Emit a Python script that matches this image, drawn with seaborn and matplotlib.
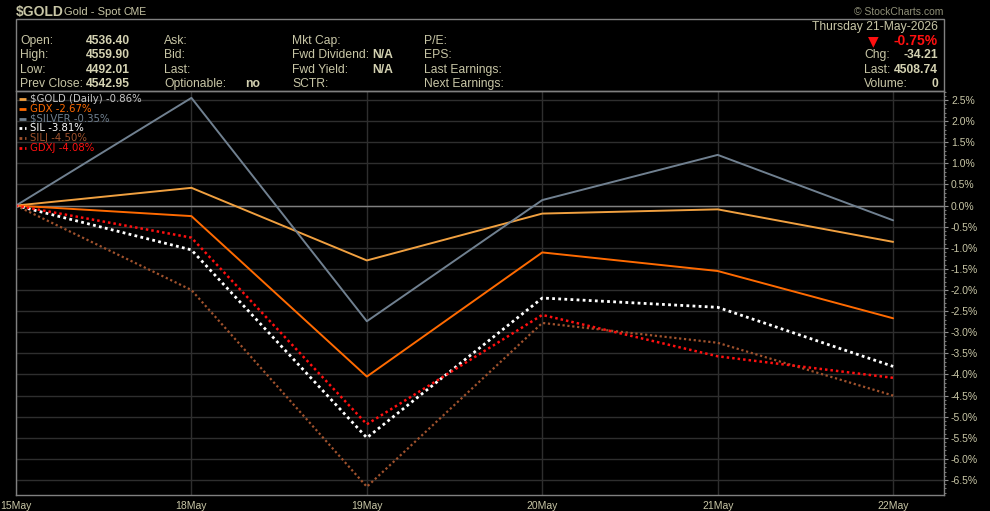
import pandas as pd
import matplotlib.pyplot as plt
import matplotlib.patches as mpatches
from matplotlib.ticker import FuncFormatter, MultipleLocator
import seaborn as sns

dates = ['15May', '18May', '19May', '20May', '21May', '22May']
gold = [0.0, 0.42, -1.30, -0.19, -0.09, -0.86]
gdx = [0.0, -0.25, -4.05, -1.11, -1.55, -2.67]
silver = [0.0, 2.55, -2.74, 0.13, 1.20, -0.35]
sil = [0.0, -1.05, -5.50, -2.19, -2.41, -3.81]
silj = [0.0, -2.00, -6.66, -2.78, -3.25, -4.50]
gdxj = [0.0, -0.76, -5.18, -2.59, -3.57, -4.08]

names = ['$GOLD (Daily) -0.86%', 'GDX -2.67%', '$SILVER -0.35%',
         'SIL -3.81%', 'SILJ -4.50%', 'GDXJ -4.08%']
series = [gold, gdx, silver, sil, silj, gdxj]
colors = ['#f0a040', '#ff6a00', '#708090', '#ffffff', '#a0522d', '#ff1010']
label_colors = ['#c8c8c8', '#ff6a00', '#708090', '#ffffff', '#a0522d', '#ff1010']

TXT = '#c8c6a6'
VAL = '#d4d2b2'

rows = []
for name, vals in zip(names, series):
    for i, v in enumerate(vals):
        rows.append({'day': i, 'pct': v, 'series': name})
df = pd.DataFrame(rows)

sns.set_style('dark', rc={'axes.facecolor': 'black', 'figure.facecolor': 'black'})
plt.rcParams['font.family'] = ['Liberation Sans', 'DejaVu Sans']
plt.rcParams['axes.unicode_minus'] = False

fig = plt.figure(figsize=(9.9, 5.11), dpi=100)
ax = fig.add_axes([16 / 990, 16 / 511, 928 / 990, 404 / 511])

dashes = {names[0]: '', names[1]: '', names[2]: '',
          names[3]: (1, 1.2), names[4]: (1, 1.2), names[5]: (1, 1.2)}
widths = [1.4, 1.4, 1.4, 2.0, 1.6, 1.8]
sns.lineplot(data=df, x='day', y='pct', hue='series', style='series',
             palette=dict(zip(names, colors)), dashes=dashes,
             hue_order=names, style_order=names, ax=ax, legend=False)
for line, w in zip(ax.get_lines(), widths):
    line.set_linewidth(w)

ax.set_xlim(0, 5.29)
ax.set_ylim(-6.855, 2.713)
ax.set_xticks(range(len(dates)))
ax.set_xticklabels(dates)
ax.yaxis.tick_right()
ax.yaxis.set_major_locator(MultipleLocator(0.5))
ax.yaxis.set_minor_locator(MultipleLocator(0.1))
ax.yaxis.set_major_formatter(FuncFormatter(lambda v, p: f'{v:.1f}%'))
ax.tick_params(axis='both', colors='#909090', labelcolor=TXT, labelsize=7.5,
               length=3, width=0.8, pad=2)
ax.tick_params(axis='y', which='minor', colors='#909090', length=1.5, width=0.6, right=True)
ax.tick_params(axis='x', length=4, pad=0)
ax.set_xlabel('')
ax.set_ylabel('')
ax.grid(True, color='#2e2e2e', linewidth=1)
ax.set_axisbelow(True)
ax.axhline(0, color='#808080', linewidth=1, zorder=1)
for s in ax.spines.values():
    s.set_color('#808080')
    s.set_linewidth(1)

# legend
for i, (name, c, lc) in enumerate(zip(names, colors, label_colors)):
    y = 1 - (8 + i * 9.8) / 404
    ls = '-' if i < 3 else (0, (1, 1))
    ax.plot([3 / 928, 10 / 928], [y, y], transform=ax.transAxes, color=c,
            linewidth=2, linestyle=ls, solid_capstyle='butt')
    ax.text(14 / 928, y, name, transform=ax.transAxes, color=lc,
            fontsize=7.3, va='center', ha='left', family=['DejaVu Sans'])

# header box
fig.patches.append(mpatches.Rectangle((16 / 990, 420 / 511), 928 / 990, 72 / 511,
                                      transform=fig.transFigure, fill=False,
                                      edgecolor='#808080', linewidth=1))

def ft(x, y, s, **kw):
    kw.setdefault('color', TXT)
    kw.setdefault('fontsize', 8.7)
    fig.text(x / 990, 1 - y / 511, s, va='center', **kw)

ft(16, 12, '$GOLD', fontsize=10, fontweight='bold')
ft(64, 12, 'Gold - Spot', fontsize=8)
ft(123, 12, 'CME', fontsize=7.5)
ft(943, 12, '\u00a9 StockCharts.com', fontsize=7.5, ha='right', color='#909078')

left = [('Open:', '4536.40'), ('High:', '4559.90'), ('Low:', '4492.01'), ('Prev Close:', '4542.95')]
for i, (k, v) in enumerate(left):
    y = 41 + i * 14.4
    ft(20, y, k)
    ft(86, y, v, fontweight='bold', color=VAL)
for i, k in enumerate(['Ask:', 'Bid:', 'Last:', 'Optionable:']):
    ft(164, 41 + i * 14.4, k)
ft(245, 41 + 3 * 14.4, 'no', fontweight='bold', color=VAL)
for i, k in enumerate(['Mkt Cap:', 'Fwd Dividend:', 'Fwd Yield:', 'SCTR:']):
    ft(292, 41 + i * 14.4, k)
ft(372, 55.4, 'N/A', fontweight='bold', color=VAL)
ft(372, 69.8, 'N/A', fontweight='bold', color=VAL)
for i, k in enumerate(['P/E:', 'EPS:', 'Last Earnings:', 'Next Earnings:']):
    ft(424, 41 + i * 14.4, k)

ft(938, 27, 'Thursday 21-May-2026', ha='right')
ft(873, 41, '\u25bc', color='#ff1010', fontsize=10, ha='center', family=['DejaVu Sans'])
ft(938, 41, '-0.75%', ha='right', color='#ff1010', fontweight='bold', fontsize=10)
for i, (k, v) in enumerate([('Chg:', '-34.21'), ('Last:', '4508.74'), ('Volume:', '0')]):
    y = 55.4 + i * 14.4
    ft(864, y, k)
    ft(938, y, v, ha='right', fontweight='bold', color=VAL)

plt.savefig('out.png', dpi=100, facecolor='black')
plt.close()
